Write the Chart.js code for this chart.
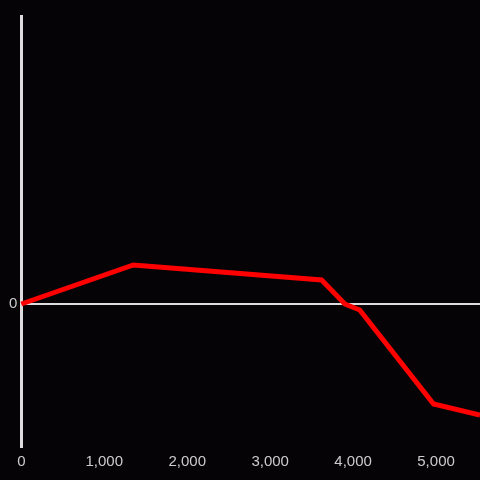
<!DOCTYPE html>
<html>
<head>
<meta charset="utf-8">
<script src="https://cdn.jsdelivr.net/npm/chart.js@4"></script>
<style>
  html, body { margin: 0; padding: 0; background: #050306; }
  #wrap { width: 480px; height: 480px; }
</style>
</head>
<body>
<div id="wrap"><canvas id="chart"></canvas></div>
<script>
// Datos
const xValues = [0, 1350, 3620, 3900, 4080, 4970, 5530];
const yValues = [0, 390, 240, 0, -60, -1000, -1110];
const xTicks = [0, 1000, 2000, 3000, 4000, 5000];
const yTicks = [0];

const points = xValues.map((x, i) => ({ x: x, y: yValues[i] }));

const ctx = document.getElementById('chart').getContext('2d');
new Chart(ctx, {
    type: 'line',
    data: {
        datasets: [{
            data: points,
            borderColor: '#ff0000',
            borderWidth: 5,
            pointRadius: 0,
            tension: 0,
            fill: false,
            clip: false
        }]
    },
    options: {
        responsive: true,
        maintainAspectRatio: false,
        animation: false,
        layout: { padding: { top: 16, right: 0, bottom: 3, left: 5 } },
        plugins: { legend: { display: false }, tooltip: { enabled: false } },
        scales: {
            x: {
                type: 'linear',
                min: 0,
                max: 5530,
                afterBuildTicks: axis => { axis.ticks = xTicks.map(v => ({ value: v })); },
                grid: { display: false, drawTicks: false },
                border: { display: false },
                ticks: { color: '#cccccc', padding: 6, maxRotation: 0, font: { family: 'Liberation Sans', size: 15 } }
            },
            y: {
                min: -1430,
                max: 2880,
                afterBuildTicks: axis => { axis.ticks = yTicks.map(v => ({ value: v })); },
                grid: { color: '#dddddd', lineWidth: 2, drawTicks: false },
                border: { display: true, color: '#dddddd', width: 3 },
                ticks: { color: '#cccccc', padding: 4, font: { family: 'Liberation Sans', size: 15 } }
            }
        }
    }
});
</script>
</body>
</html>
